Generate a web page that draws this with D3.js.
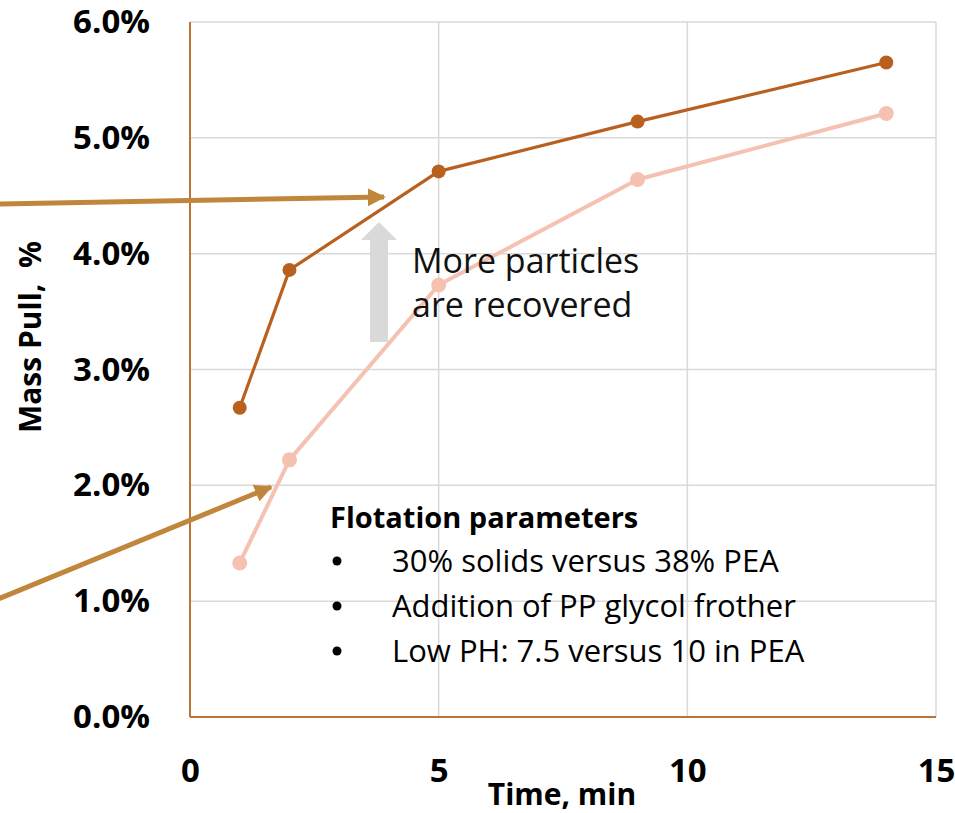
<!DOCTYPE html>
<html>
<head>
<meta charset="utf-8">
<script src="https://cdn.jsdelivr.net/npm/d3@7"></script>
<style>
  html, body { margin: 0; padding: 0; background: #fff; }
  svg { display: block; }
</style>
</head>
<body>
<svg id="chart" width="955" height="813"></svg>
<script>
// Flotation mass pull over time
const times = [1, 2, 5, 9, 14];
const improvedPull = [0.0267, 0.0386, 0.0471, 0.0514, 0.0565];
const baselinePull = [0.0133, 0.0222, 0.0373, 0.0464, 0.0521];
const xTicks = [0, 5, 10, 15];
const yTicks = [0, 0.01, 0.02, 0.03, 0.04, 0.05, 0.06];
const noteTitle = "Flotation parameters";
const noteItems = [
  "30% solids versus 38% PEA",
  "Addition of PP glycol frother",
  "Low PH: 7.5 versus 10 in PEA"
];
const calloutLines = ["More particles", "are recovered"];

const svg = d3.select("#chart");
const plotLeft = 190, plotRight = 936, plotTop = 22, plotBottom = 717;

const x = d3.scaleLinear().domain([0, 15]).range([plotLeft, plotRight]);
const y = d3.scaleLinear().domain([0, 0.06]).range([plotBottom, plotTop]);

const font = "'Open Sans', 'DejaVu Sans', sans-serif";
const gridColor = "#d9d9d9";
const axisColor = "#bd7236";
const darkColor = "#b9601f";
const lightColor = "#f5c2b1";
const arrowColor = "#c0873c";

// grid
const grid = svg.append("g");
grid.selectAll("line.h").data(yTicks.filter(d => d > 0)).join("line")
  .attr("x1", plotLeft).attr("x2", plotRight)
  .attr("y1", d => y(d)).attr("y2", d => y(d))
  .attr("stroke", gridColor).attr("stroke-width", 1.5);
grid.selectAll("line.v").data(xTicks.filter(d => d > 0)).join("line")
  .attr("y1", plotTop).attr("y2", plotBottom)
  .attr("x1", d => x(d)).attr("x2", d => x(d))
  .attr("stroke", gridColor).attr("stroke-width", 1.5);

// axes
const yAxis = d3.axisLeft(y).tickValues(yTicks).tickFormat(d3.format(".1%")).tickSize(0).tickPadding(40);
const yg = svg.append("g").attr("transform", `translate(${plotLeft},0)`).call(yAxis);
yg.select(".domain").remove();
yg.selectAll("text").attr("font-family", font).attr("font-weight", "bold")
  .attr("font-size", 33).attr("fill", "#000");

const xAxis = d3.axisBottom(x).tickValues(xTicks).tickFormat(d3.format("d")).tickSize(0).tickPadding(42);
const xg = svg.append("g").attr("transform", `translate(0,${plotBottom})`).call(xAxis);
xg.select(".domain").remove();
xg.selectAll("text").attr("font-family", font).attr("font-weight", "bold")
  .attr("font-size", 33).attr("fill", "#000");

svg.append("line").attr("x1", plotLeft).attr("x2", plotLeft).attr("y1", plotTop).attr("y2", plotBottom)
  .attr("stroke", axisColor).attr("stroke-width", 2);
svg.append("line").attr("x1", plotLeft).attr("x2", plotRight).attr("y1", plotBottom).attr("y2", plotBottom)
  .attr("stroke", axisColor).attr("stroke-width", 2);

// axis titles
svg.append("text").attr("x", 562).attr("y", 805).attr("text-anchor", "middle")
  .attr("font-family", font).attr("font-weight", "bold").attr("font-size", 30)
  .text("Time, min");
svg.append("text").attr("transform", "translate(41,337) rotate(-90)").attr("text-anchor", "middle")
  .attr("font-family", font).attr("font-weight", "bold").attr("font-size", 30)
  .attr("xml:space", "preserve").style("white-space", "pre")
  .text("Mass Pull,  %");

// series
const line = d3.line().x((d, i) => x(times[i])).y(d => y(d));
function drawSeries(values, color, width, r) {
  svg.append("path").datum(values).attr("d", line)
    .attr("fill", "none").attr("stroke", color).attr("stroke-width", width)
    .attr("stroke-linejoin", "round");
  svg.append("g").selectAll("circle").data(values).join("circle")
    .attr("cx", (d, i) => x(times[i])).attr("cy", d => y(d)).attr("r", r)
    .attr("fill", color);
}
drawSeries(baselinePull, lightColor, 4, 7.5);
drawSeries(improvedPull, darkColor, 3.2, 7);

// pointer arrows coming in from the left
const defs = svg.append("defs");
defs.append("marker").attr("id", "head").attr("viewBox", "0 0 10 10")
  .attr("refX", 9).attr("refY", 5).attr("markerWidth", 3.6).attr("markerHeight", 3.6)
  .attr("markerUnits", "strokeWidth").attr("orient", "auto")
  .append("path").attr("d", "M0,0 L10,5 L0,10 Z").attr("fill", arrowColor);

svg.append("line").attr("x1", -2).attr("y1", 204).attr("x2", 384).attr("y2", 197)
  .attr("stroke", arrowColor).attr("stroke-width", 5).attr("marker-end", "url(#head)");
svg.append("line").attr("x1", -2).attr("y1", 599).attr("x2", 271).attr("y2", 487)
  .attr("stroke", arrowColor).attr("stroke-width", 5).attr("marker-end", "url(#head)");

// grey upward arrow
svg.append("path")
  .attr("d", "M370,342 L370,240 L361,240 L379,222 L397,240 L388,240 L388,342 Z")
  .attr("fill", "#d9d9d9");

// callout text
const callout = svg.append("text").attr("font-family", font).attr("font-size", 34)
  .attr("fill", "#111");
calloutLines.forEach((t, i) => {
  callout.append("tspan").attr("x", 412).attr("y", 273 + i * 44).text(t);
});

// notes box
svg.append("text").attr("x", 330).attr("y", 528).attr("font-family", font)
  .attr("font-weight", "bold").attr("font-size", 29).text(noteTitle);
const notes = svg.append("g").attr("font-family", font).attr("fill", "#000");
noteItems.forEach((t, i) => {
  const yy = 572 + i * 45;
  notes.append("circle").attr("cx", 337).attr("cy", yy - 11).attr("r", 4.5).attr("fill", "#000");
  notes.append("text").attr("x", 392).attr("y", yy).attr("font-size", 31).text(t);
});
</script>
</body>
</html>
